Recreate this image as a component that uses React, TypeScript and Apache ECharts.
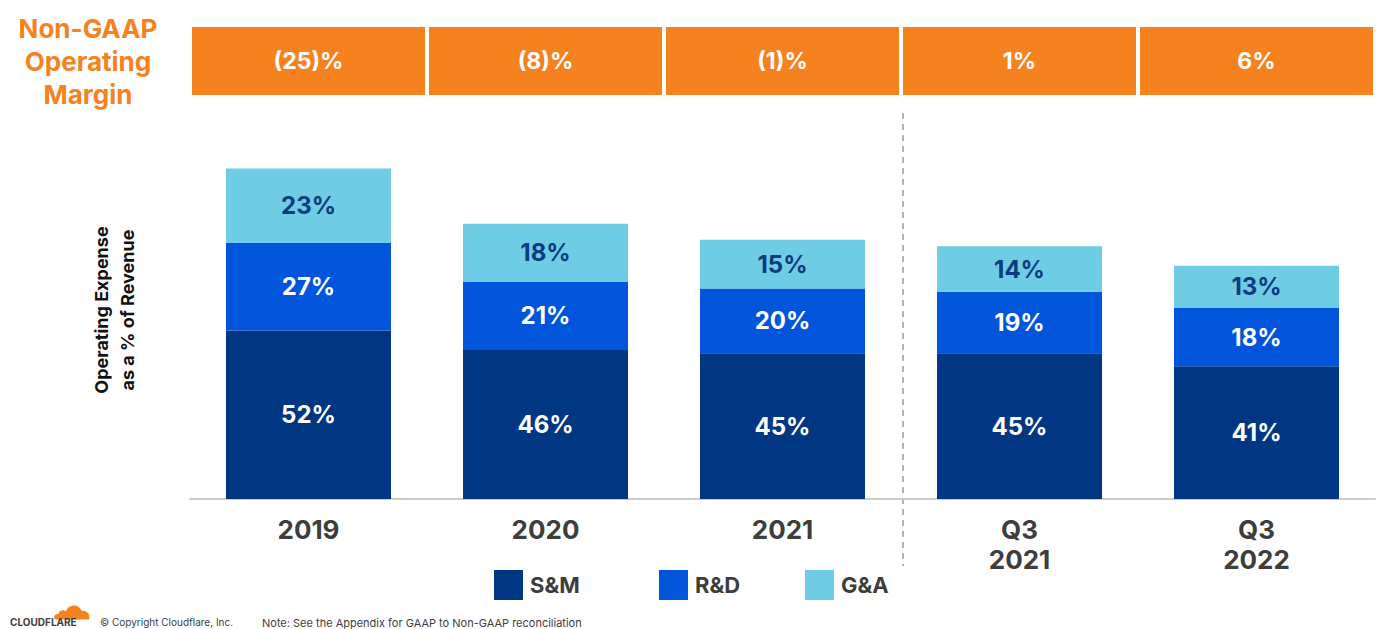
import React, { useEffect, useRef } from "react";
import * as echarts from "echarts";

const categories = ["2019", "2020", "2021", "Q3\n2021", "Q3\n2022"];
const smValues = [52, 46, 45, 45, 41];
const rdValues = [27, 21, 20, 19, 18];
const gaValues = [23, 18, 15, 14, 13];
const marginValues = [-25, -8, -1, 1, 6];

const FONT = "Inter, 'Noto Sans', sans-serif";
const ORANGE = "#F6821F";
const C_SM = "#003682";
const C_RD = "#0055DB";
const C_GA = "#6ECCE4";

const cloudPath =
  "M4 22 C0 22 0 15 6 15 C6 10 12 9 14 12 C16 3 28 1 31 11 C37 10 41 16 39 22 Z";

export default function App() {
  const ref = useRef<HTMLDivElement>(null);
  useEffect(() => {
    if (!ref.current) return;
    try {
      echarts.graphic.registerShape("cfcloud", echarts.graphic.extendPath(cloudPath, {}) as any);
    } catch (e) {}
    const chart = echarts.init(ref.current, undefined, { renderer: "svg" });
    const gridLeft = 190;
    const gridRight = 22;
    const width = 1397;
    const band = (width - gridLeft - gridRight) / categories.length;
    const sepX = gridLeft + band * 3;

    const barLabel = (color: string) => ({
      show: true,
      position: "inside" as const,
      color,
      fontFamily: FONT,
      fontWeight: "bold" as const,
      fontSize: 24,
      formatter: (p: any) => `${p.value}%`,
    });

    const legendText = { color: "#3d3d3d", fontFamily: FONT, fontWeight: "bold", fontSize: 22, padding: [0, 0, 0, 2] };
    const legendBase = { top: 570, padding: 0, icon: "rect", itemWidth: 29, itemHeight: 30, textStyle: legendText, selectedMode: false };

    chart.setOption({
      animation: false,
      backgroundColor: "#ffffff",
      grid: [
        { left: gridLeft, right: gridRight, top: 120, bottom: 130 },
        { left: gridLeft, right: gridRight, top: 27, height: 68 },
      ],
      xAxis: [
        {
          type: "category",
          gridIndex: 0,
          data: categories,
          axisLine: { show: true, lineStyle: { color: "#cccccc", width: 2 } },
          axisTick: { show: false },
          axisLabel: {
            color: "#3d3d3d",
            fontFamily: FONT,
            fontWeight: "bold",
            fontSize: 26,
            lineHeight: 30,
            margin: 15,
          },
        },
        {
          type: "category",
          gridIndex: 1,
          data: categories,
          show: false,
        },
      ],
      yAxis: [
        { type: "value", gridIndex: 0, min: 0, max: 117, show: false },
        { type: "value", gridIndex: 1, min: 0, max: 1, show: false },
      ],
      legend: [
        { ...legendBase, data: ["S&M"], left: 494 },
        { ...legendBase, data: ["R&D"], left: 659 },
        { ...legendBase, data: ["G&A"], left: 805 },
      ],
      series: [
        {
          name: "S&M",
          type: "bar",
          stack: "opex",
          xAxisIndex: 0,
          yAxisIndex: 0,
          barWidth: 165,
          data: smValues,
          itemStyle: { color: C_SM },
          label: barLabel("#ffffff"),
        },
        {
          name: "R&D",
          type: "bar",
          stack: "opex",
          xAxisIndex: 0,
          yAxisIndex: 0,
          barWidth: 165,
          data: rdValues,
          itemStyle: { color: C_RD },
          label: barLabel("#ffffff"),
        },
        {
          name: "G&A",
          type: "bar",
          stack: "opex",
          xAxisIndex: 0,
          yAxisIndex: 0,
          barWidth: 165,
          data: gaValues,
          itemStyle: { color: C_GA },
          label: barLabel("#0b3a80"),
        },
        {
          name: "Margin",
          type: "bar",
          xAxisIndex: 1,
          yAxisIndex: 1,
          barWidth: 233,
          data: marginValues.map(() => 1),
          itemStyle: { color: ORANGE },
          label: {
            show: true,
            position: "inside",
            color: "#ffffff",
            fontFamily: FONT,
            fontWeight: "bold",
            fontSize: 23,
            formatter: (p: any) => {
              const m = marginValues[p.dataIndex];
              return m < 0 ? `(${-m})%` : `${m}%`;
            },
          },
          silent: true,
        },
      ],
      graphic: [
        {
          type: "text",
          x: 88,
          y: 61,
          style: {
            text: "Non-GAAP\nOperating\nMargin",
            fill: ORANGE,
            font: `bold 26px ${FONT}`,
            lineHeight: 33,
            align: "center",
            verticalAlign: "middle",
          },
        },
        {
          type: "text",
          x: 114,
          y: 310,
          rotation: Math.PI / 2,
          style: {
            text: "Operating Expense\nas a % of Revenue",
            fill: "#111111",
            font: `bold 18px ${FONT}`,
            lineHeight: 26,
            align: "center",
            verticalAlign: "middle",
          },
        },
        {
          type: "line",
          shape: { x1: sepX + 2, y1: 113, x2: sepX + 2, y2: 566 },
          style: { stroke: "#9a9a9a", lineWidth: 1.5, lineDash: [6, 5] },
          silent: true,
        },
        {
          type: "cfcloud",
          x: 53,
          y: 602,
          scaleX: 0.92,
          scaleY: 0.8,
          style: { fill: ORANGE },
          silent: true,
        },
        {
          type: "text",
          x: 10,
          y: 617,
          style: { text: "CLOUDFLARE", fill: "#404040", font: `bold 10px ${FONT}` },
        },
        {
          type: "text",
          x: 100,
          y: 617,
          style: { text: "© Copyright Cloudflare, Inc.", fill: "#404040", font: `10px ${FONT}` },
        },
        {
          type: "text",
          x: 262,
          y: 617,
          style: {
            text: "Note: See the Appendix for GAAP to Non-GAAP reconciliation",
            fill: "#404040",
            font: `11px ${FONT}`,
          },
        },
      ],
    });
    return () => chart.dispose();
  }, []);
  return (
    <div
      ref={ref}
      style={{ position: "absolute", left: 0, top: 0, width: 1397, height: 629 }}
    />
  );
}
